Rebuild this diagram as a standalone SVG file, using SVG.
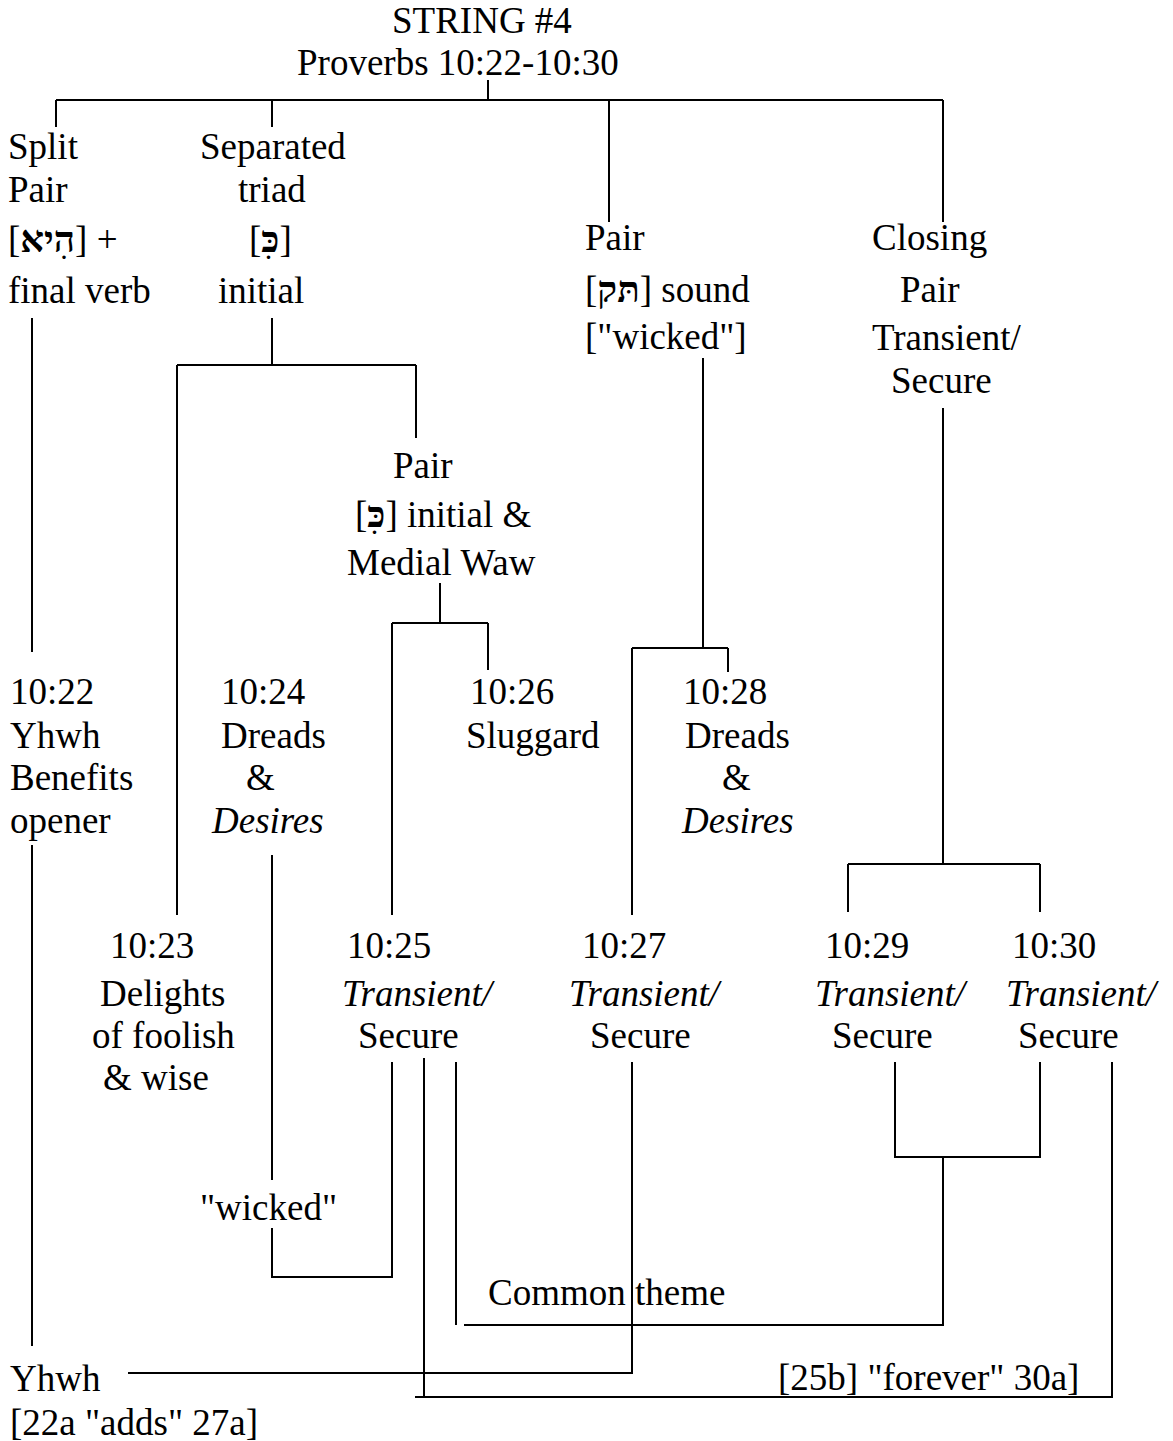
<svg xmlns="http://www.w3.org/2000/svg" width="1173" height="1441" viewBox="0 0 1173 1441">
<style>
text{font-family:"Liberation Serif","Times New Roman","DejaVu Serif",serif;font-size:37px;fill:#000}
.i{font-style:italic}
.h{font-weight:bold}
.c{fill:none;stroke:#000;stroke-width:2}
</style>
<rect width="1173" height="1441" fill="#fff"/>
<g id="connectors" class="c">
<path d="M488 80V100M56 100H943M56 100V127M272 100V127M609 100V222M943 100V222"/>
<path d="M32 318V652"/>
<path d="M272 318V365M177 365H416M177 365V915M416 365V438"/>
<path d="M440 583V623M392 623H488M392 623V915M488 623V670"/>
<path d="M703 358V648M632 648H728M632 648V915M728 648V672"/>
<path d="M943 408V864M848 864H1040M848 864V912M1040 864V912"/>
<path d="M32 845V1346"/>
<path d="M272 855V1180M272 1228V1277H392V1062"/>
<path d="M128 1373H632V1062"/>
<path d="M424 1058V1397M415 1397H1112V1062"/>
<path d="M456 1062V1325M464 1325H943V1157M895 1062V1157H1040V1062"/>
</g>
<g id="root">
<text x="392" y="33">STRING #4</text>
<text x="297" y="75">Proverbs 10:22-10:30</text>
</g>
<g id="split-pair">
<text x="8" y="159">Split</text>
<text x="8" y="202">Pair</text>
<text x="8" y="252">[<tspan class="h">הִיא</tspan>] +</text>
<text x="8" y="303">final verb</text>
</g>
<g id="separated-triad">
<text x="200" y="159">Separated</text>
<text x="238" y="202">triad</text>
<text x="249" y="252">[<tspan class="h">כִּ</tspan>]</text>
<text x="218" y="303">initial</text>
</g>
<g id="pair-sound">
<text x="585" y="250">Pair</text>
<text x="585" y="302">[<tspan class="h">תּק</tspan>] sound</text>
<text x="585" y="349">["wicked"]</text>
</g>
<g id="closing-pair">
<text x="872" y="250">Closing</text>
<text x="900" y="302">Pair</text>
<text x="872" y="350">Transient/</text>
<text x="891" y="393">Secure</text>
</g>
<g id="pair-medial">
<text x="393" y="478">Pair</text>
<text x="355" y="527">[<tspan class="h">כִּ</tspan>] initial &amp;</text>
<text x="347" y="575">Medial Waw</text>
</g>
<g id="v1022">
<text x="10" y="704">10:22</text>
<text x="10" y="748">Yhwh</text>
<text x="10" y="790">Benefits</text>
<text x="10" y="833">opener</text>
</g>
<g id="v1024">
<text x="221" y="704">10:24</text>
<text x="221" y="748">Dreads</text>
<text x="246" y="790">&amp;</text>
<text x="212" y="833" class="i">Desires</text>
</g>
<g id="v1026">
<text x="470" y="704">10:26</text>
<text x="466" y="748">Sluggard</text>
</g>
<g id="v1028">
<text x="683" y="704">10:28</text>
<text x="685" y="748">Dreads</text>
<text x="722" y="790">&amp;</text>
<text x="682" y="833" class="i">Desires</text>
</g>
<g id="v1023">
<text x="110" y="958">10:23</text>
<text x="100" y="1006">Delights</text>
<text x="92" y="1048">of foolish</text>
<text x="103" y="1090">&amp; wise</text>
</g>
<g id="v1025">
<text x="347" y="958">10:25</text>
<text x="342" y="1006" class="i">Transient/</text>
<text x="358" y="1048">Secure</text>
</g>
<g id="v1027">
<text x="582" y="958">10:27</text>
<text x="569" y="1006" class="i">Transient/</text>
<text x="590" y="1048">Secure</text>
</g>
<g id="v1029">
<text x="825" y="958">10:29</text>
<text x="815" y="1006" class="i">Transient/</text>
<text x="832" y="1048">Secure</text>
</g>
<g id="v1030">
<text x="1012" y="958">10:30</text>
<text x="1006" y="1006" class="i">Transient/</text>
<text x="1018" y="1048">Secure</text>
</g>
<g id="label-wicked">
<text x="200" y="1220">"wicked"</text>
</g>
<g id="label-common">
<text x="488" y="1305">Common theme</text>
</g>
<g id="label-yhwh">
<text x="10" y="1391">Yhwh</text>
<text x="10" y="1435">[22a "adds" 27a]</text>
</g>
<g id="label-forever">
<text x="778" y="1390">[25b] "forever" 30a]</text>
</g>
</svg>
